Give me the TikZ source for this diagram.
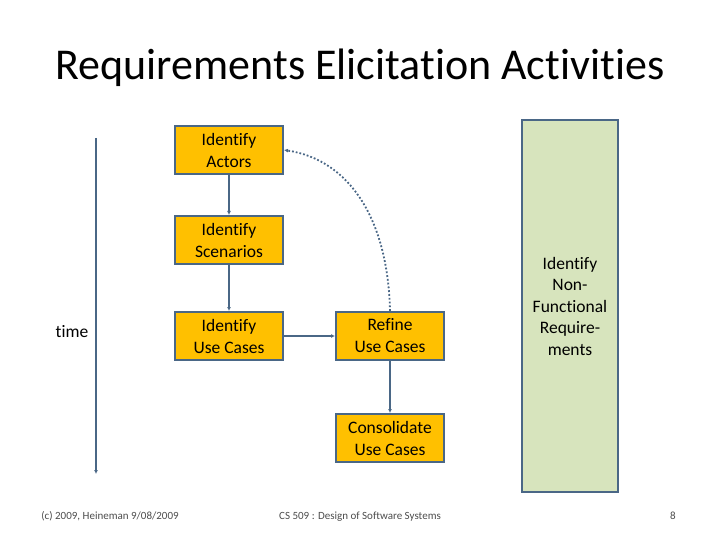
\documentclass[tikz,border=0pt]{standalone}
\usepackage{fontspec}
\setmainfont{Carlito}[RawFeature={-liga}]
\usetikzlibrary{arrows.meta}
\definecolor{boxfill}{HTML}{FFC000}
\definecolor{edge}{HTML}{4A6786}
\definecolor{greenfill}{HTML}{D7E4BD}
\begin{document}
\begin{tikzpicture}[x=1pt,y=-1pt,
  actbox/.style={draw=edge,line width=2pt,fill=boxfill,minimum width=108pt,minimum height=48pt,align=center,font=\fontsize{17.5}{22}\selectfont,inner sep=0pt},
  conn/.style={draw=edge,line width=1.2pt,-{Latex[length=4pt,width=4pt]}},
  foot/.style={font=\fontsize{11}{13}\selectfont,text=black!70,anchor=base}]
\useasboundingbox (0,0) rectangle (720,540);
\node (title) at (360,68) {\fontsize{44}{50}\selectfont Requirements Elicitation Activities};
\node[actbox] (actors) at (229,150) {Identify\\Actors};
\node[actbox] (scen) at (229,240) {Identify\\Scenarios};
\node[actbox] (uc) at (229,336) {Identify\\Use Cases};
\node[actbox] (refine) at (390,336) {Refine\\Use Cases};
\node[actbox] (cons) at (390,438) {Consolidate\\Use Cases};
\node[draw=edge,line width=2pt,fill=greenfill,minimum width=96pt,minimum height=372pt,align=center,font=\fontsize{17.5}{21.5}\selectfont,inner sep=0pt] (nfr) at (570,306) {Identify\\Non-\\Functional\\Require-\\ments};
\coordinate (t0) at (96,138);
\coordinate (t1) at (96,474);
\draw[conn] (t0) -- (t1);
\node[font=\fontsize{17.5}{20}\selectfont] (time) at (72,332) {time};
\draw[conn] (actors) -- (scen);
\draw[conn] (scen) -- (uc);
\draw[conn] (uc) -- (refine);
\draw[conn] (refine) -- (cons);
\draw[draw=edge,line width=1.8pt,dotted,-{Latex[length=4pt,width=4pt]}] (refine.north) .. controls (388,220) and (350,160) .. (actors.east);
\node[foot] (f1) at (110,519) {(c) 2009, Heineman 9/08/2009};
\node[foot] (f2) at (360,519) {CS 509 : Design of Software Systems};
\node[foot] (f3) at (673,519) {8};
\end{tikzpicture}
\end{document}
